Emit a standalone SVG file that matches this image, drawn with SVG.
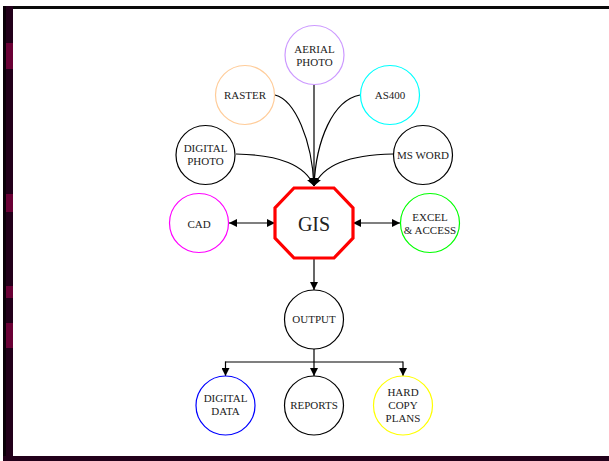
<svg xmlns="http://www.w3.org/2000/svg" width="609" height="461" viewBox="0 0 609 461">
<style>
.n{fill:#fff;stroke-width:1.2}
.t{font-family:"Liberation Serif","Times New Roman",serif;font-size:11px;fill:#222;text-anchor:middle}
.c{fill:none;stroke:#000;stroke-width:1.2}
</style>
<defs>
<marker id="ah" viewBox="0 0 10 10" refX="10" refY="5" markerWidth="8" markerHeight="8" markerUnits="userSpaceOnUse" orient="auto-start-reverse">
<path d="M0,0 L10,5 L0,10 z" fill="#000"/>
</marker>
</defs>
<rect x="0" y="0" width="609" height="461" fill="#fff"/>
<g id="frame">
<rect x="3" y="6" width="606" height="3" fill="#0a0a0a"/>
<rect x="3" y="6" width="3" height="455" fill="#0a0008"/>
<rect x="6" y="6" width="7" height="455" fill="#22001a"/>
<rect x="6" y="43" width="7" height="26" fill="#6a0035"/>
<rect x="6" y="194" width="7" height="18" fill="#6a0035"/>
<rect x="6" y="286" width="7" height="12" fill="#6a0035"/>
<rect x="6" y="323" width="7" height="25" fill="#6a0035"/>
<rect x="3" y="456" width="606" height="5" fill="#22001a"/>
</g>
<g id="connectors">
<path class="c" d="M275,95 C295,100 312,140 314,186" marker-end="url(#ah)"/>
<path class="c" d="M360,95 C333,100 316,140 314,186" marker-end="url(#ah)"/>
<path class="c" d="M314,85 L314,186" marker-end="url(#ah)"/>
<path class="c" d="M236,154 C280,155 305,165 314,186" marker-end="url(#ah)"/>
<path class="c" d="M393,154 C348,155 323,165 314,186" marker-end="url(#ah)"/>
<path class="c" d="M229,223 L275,223" marker-start="url(#ah)" marker-end="url(#ah)"/>
<path class="c" d="M353,223 L400,223" marker-start="url(#ah)" marker-end="url(#ah)"/>
<path class="c" d="M314,258 L314,290" marker-end="url(#ah)"/>
<path class="c" d="M314,349 L314,376" marker-end="url(#ah)"/>
<path class="c" d="M225.5,362 L403,362"/>
<path class="c" d="M225.5,361.4 L225.5,376" marker-end="url(#ah)"/>
<path class="c" d="M403,361.4 L403,376" marker-end="url(#ah)"/>
</g>
<g id="aerial"><circle class="n" cx="314.5" cy="55" r="29.5" stroke="#cc99ff"/><text class="t" x="314.5" y="53">AERIAL</text><text class="t" x="314.5" y="66">PHOTO</text></g>
<g id="raster"><circle class="n" cx="245" cy="95" r="29.5" stroke="#ffcc99"/><text class="t" x="245" y="99">RASTER</text></g>
<g id="as400"><circle class="n" cx="390" cy="95" r="29.5" stroke="#00ffff"/><text class="t" x="390" y="99">AS400</text></g>
<g id="digitalphoto"><circle class="n" cx="205.5" cy="155" r="29.5" stroke="#000"/><text class="t" x="205.5" y="152">DIGITAL</text><text class="t" x="205.5" y="165">PHOTO</text></g>
<g id="msword"><circle class="n" cx="423" cy="155" r="29.5" stroke="#000"/><text class="t" x="423" y="159">MS WORD</text></g>
<g id="gis"><polygon points="294,188 334,188 353,208 353,238 334,258 294,258 275,238 275,208" fill="#fff" stroke="#ff0000" stroke-width="3.2"/><text class="t" x="314" y="231" style="font-size:20px">GIS</text></g>
<g id="cad"><circle class="n" cx="199" cy="223" r="29.5" stroke="#ff00ff"/><text class="t" x="199" y="227.5">CAD</text></g>
<g id="excel"><circle class="n" cx="430" cy="223" r="29.5" stroke="#00ff00"/><text class="t" x="430" y="220.5">EXCEL</text><text class="t" x="430" y="233.5">&amp; ACCESS</text></g>
<g id="output"><circle class="n" cx="314" cy="319.5" r="29.5" stroke="#000"/><text class="t" x="314" y="323">OUTPUT</text></g>
<g id="digitaldata"><circle class="n" cx="225.5" cy="405.5" r="29.5" stroke="#0000ff"/><text class="t" x="225.5" y="402">DIGITAL</text><text class="t" x="225.5" y="415">DATA</text></g>
<g id="reports"><circle class="n" cx="314" cy="405.5" r="29.5" stroke="#000"/><text class="t" x="314" y="409">REPORTS</text></g>
<g id="hardcopy"><circle class="n" cx="403" cy="405.5" r="29.5" stroke="#ffff00"/><text class="t" x="403" y="396">HARD</text><text class="t" x="403" y="409">COPY</text><text class="t" x="403" y="422">PLANS</text></g>
</svg>
